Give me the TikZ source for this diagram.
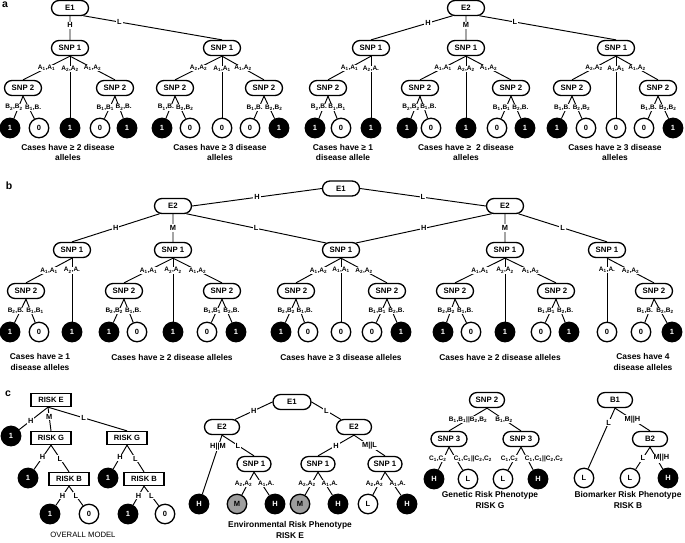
\documentclass[tikz,border=0pt]{standalone}
\usepackage{fontspec}
\setmainfont{Liberation Sans}
\usetikzlibrary{shapes.misc,calc}
\newcommand\sbs[1]{\textsubscript{#1}}
\tikzset{
 bx/.style={rounded rectangle, draw, line width=1.3pt, minimum width=37pt, minimum height=15pt, inner sep=0pt, fill=white, font=\fontsize{7.8}{9}\selectfont\bfseries},
 rbx/.style={rectangle, draw, line width=1.3pt, minimum width=40pt, minimum height=13pt, inner sep=0pt, fill=white, font=\fontsize{7.6}{9}\selectfont\bfseries},
 nd/.style={circle, draw, line width=1.3pt, minimum size=19.5pt, inner sep=0pt, font=\fontsize{7.5}{9}\selectfont\bfseries},
 one/.style={nd, fill=black, text=white},
 zero/.style={nd, fill=white},
 mid/.style={nd, fill=black!38},
 ln/.style={line width=0.95pt},
 lab/.style={fill=white, inner sep=0.5pt, font=\fontsize{6.5}{7}\selectfont\bfseries},
 labl/.style={lab, xshift=-4.5pt},
 labr/.style={lab, xshift=4.5pt},
 el/.style={fill=white, inner sep=1pt, font=\fontsize{7.4}{8}\selectfont\bfseries},
 captxt/.style={align=center, font=\fontsize{8.4}{10.5}\selectfont\bfseries},
 plet/.style={font=\fontsize{10.5}{12}\selectfont\bfseries},
}
\begin{document}
\begin{tikzpicture}[x=1pt,y=-1pt]
\useasboundingbox (0,0) rectangle (685,542);
% ================= panel a =================
\node[plet] (pa) at (5,5) {a};
\node[bx] (a1E) at (70,8) {E1};
\node[bx] (a1S) at (70,48) {SNP 1};
\node[bx] (a2S) at (222,48) {SNP 1};
\node[bx] (a1L) at (23,88) {SNP 2};
\node[bx] (a1R) at (115,88) {SNP 2};
\node[one] (a1c1) at (10,128) {1};
\node[zero] (a1c2) at (39,128) {0};
\node[one] (a1c3) at (70,128) {1};
\node[zero] (a1c4) at (100,128) {0};
\node[one] (a1c5) at (127,128) {1};
\node[bx] (a2L) at (175,88) {SNP 2};
\node[bx] (a2R) at (264,88) {SNP 2};
\node[one] (a2c1) at (162,128) {1};
\node[zero] (a2c2) at (190,128) {0};
\node[zero] (a2c3) at (222,128) {0};
\node[zero] (a2c4) at (250,128) {0};
\node[one] (a2c5) at (279,128) {1};
\node[bx] (a3E) at (466,8) {E2};
\node[bx] (a3S) at (371,48) {SNP 1};
\node[bx] (a4S) at (466,48) {SNP 1};
\node[bx] (a5S) at (616,48) {SNP 1};
\node[bx] (a3L) at (328,88) {SNP 2};
\node[one] (a3c1) at (315,128) {1};
\node[zero] (a3c2) at (341,128) {0};
\node[one] (a3c3) at (371,128) {1};
\node[bx] (a4L) at (420,88) {SNP 2};
\node[bx] (a4R) at (511,88) {SNP 2};
\node[one] (a4c1) at (407,128) {1};
\node[zero] (a4c2) at (431,128) {0};
\node[one] (a4c3) at (466,128) {1};
\node[zero] (a4c4) at (497,128) {0};
\node[one] (a4c5) at (525,128) {1};
\node[bx] (a5L) at (572,88) {SNP 2};
\node[bx] (a5R) at (658,88) {SNP 2};
\node[one] (a5c1) at (557,128) {1};
\node[zero] (a5c2) at (586,128) {0};
\node[zero] (a5c3) at (616,128) {0};
\node[zero] (a5c4) at (644,128) {0};
\node[one] (a5c5) at (673,128) {1};
\draw[ln] (a1E) -- node[el,pos=.38]{H} (a1S);
\draw[ln] (a1E.-30) -- node[el,pos=.26]{L} (a2S.north);
\draw[ln] (a1S.south) -- node[lab]{A\sbs1,A\sbs1} (a1L.north);
\draw[ln] (a1S.south) -- node[lab,pos=.21]{A\sbs2,A\sbs2} (a1c3);
\draw[ln] (a1S.south) -- node[lab]{A\sbs1,A\sbs2} (a1R.north);
\draw[ln] (a1L.south) -- node[labl]{B\sbs2,B\sbs2} (a1c1);
\draw[ln] (a1L.south) -- node[labr]{B\sbs1,B.} (a1c2);
\draw[ln] (a1R.south) -- node[labl]{B\sbs1,B\sbs1} (a1c4);
\draw[ln] (a1R.south) -- node[labr]{B\sbs2,B.} (a1c5);
\draw[ln] (a2S.south) -- node[lab]{A\sbs2,A\sbs2} (a2L.north);
\draw[ln] (a2S.south) -- node[lab,pos=.21]{A\sbs1,A\sbs1} (a2c3);
\draw[ln] (a2S.south) -- node[lab]{A\sbs1,A\sbs2} (a2R.north);
\draw[ln] (a2L.south) -- node[labl]{B\sbs1,B.} (a2c1);
\draw[ln] (a2L.south) -- node[labr]{B\sbs2,B\sbs2} (a2c2);
\draw[ln] (a2R.south) -- node[labl]{B\sbs1,B.} (a2c4);
\draw[ln] (a2R.south) -- node[labr]{B\sbs2,B\sbs2} (a2c5);
\draw[ln] (a3E.210) -- node[el,pos=.3]{H} (a3S.north);
\draw[ln] (a3E) -- node[el,pos=.38]{M} (a4S);
\draw[ln] (a3E.-30) -- node[el,pos=.26]{L} (a5S.north);
\draw[ln] (a3S.south) -- node[lab]{A\sbs1,A\sbs1} (a3L.north);
\draw[ln] (a3S.south) -- node[lab,pos=.21]{A\sbs2,A.} (a3c3);
\draw[ln] (a3L.south) -- node[labl]{B\sbs2,B.} (a3c1);
\draw[ln] (a3L.south) -- node[labr]{B\sbs1,B\sbs1} (a3c2);
\draw[ln] (a4S.south) -- node[lab]{A\sbs1,A\sbs1} (a4L.north);
\draw[ln] (a4S.south) -- node[lab,pos=.21]{A\sbs2,A\sbs2} (a4c3);
\draw[ln] (a4S.south) -- node[lab]{A\sbs1,A\sbs2} (a4R.north);
\draw[ln] (a4L.south) -- node[labl]{B\sbs2,B\sbs2} (a4c1);
\draw[ln] (a4L.south) -- node[labr]{B\sbs1,B.} (a4c2);
\draw[ln] (a4R.south) -- node[labl]{B\sbs1,B\sbs1} (a4c4);
\draw[ln] (a4R.south) -- node[labr]{B\sbs2,B.} (a4c5);
\draw[ln] (a5S.south) -- node[lab]{A\sbs2,A\sbs2} (a5L.north);
\draw[ln] (a5S.south) -- node[lab,pos=.21]{A\sbs1,A\sbs1} (a5c3);
\draw[ln] (a5S.south) -- node[lab]{A\sbs1,A\sbs2} (a5R.north);
\draw[ln] (a5L.south) -- node[labl]{B\sbs1,B.} (a5c1);
\draw[ln] (a5L.south) -- node[labr]{B\sbs2,B\sbs2} (a5c2);
\draw[ln] (a5R.south) -- node[labl]{B\sbs1,B.} (a5c4);
\draw[ln] (a5R.south) -- node[labr]{B\sbs2,B\sbs2} (a5c5);
\node[captxt] (acap1) at (68,152.5) {Cases have ≥ 2 disease\\alleles};
\node[captxt] (acap2) at (220,152.5) {Cases have ≥ 3 disease\\alleles};
\node[captxt] (acap3) at (343,152.5) {Cases have ≥ 1\\disease allele};
\node[captxt] (acap4) at (466,152.5) {Cases have ≥ \ 2 disease\\alleles};
\node[captxt] (acap5) at (615,152.5) {Cases have ≥ 3 disease\\alleles};
% ================= panel b =================
\node[plet] (pb) at (9,186) {b};
\node[bx] (bE) at (341,188.5) {E1};
\node[bx] (bL) at (173,206) {E2};
\node[bx] (bR) at (505,206) {E2};
\node[bx] (b1S) at (72,250) {SNP 1};
\node[bx] (b2S) at (173,250) {SNP 1};
\node[bx] (b3S) at (341,250) {SNP 1};
\node[bx] (b4S) at (505,250) {SNP 1};
\node[bx] (b5S) at (607,250) {SNP 1};
\node[bx] (b1L) at (26,291) {SNP 2};
\node[one] (b1c1) at (10,332) {1};
\node[zero] (b1c2) at (39,332) {0};
\node[one] (b1c3) at (72,332) {1};
\node[bx] (b2L) at (124,291) {SNP 2};
\node[bx] (b2R) at (222,291) {SNP 2};
\node[one] (b2c1) at (109,332) {1};
\node[zero] (b2c2) at (137,332) {0};
\node[one] (b2c3) at (173,332) {1};
\node[zero] (b2c4) at (207,332) {0};
\node[one] (b2c5) at (236,332) {1};
\node[bx] (b3L) at (296,291) {SNP 2};
\node[bx] (b3R) at (387,291) {SNP 2};
\node[one] (b3c1) at (281,332) {1};
\node[zero] (b3c2) at (308,332) {0};
\node[zero] (b3c3) at (341,332) {0};
\node[zero] (b3c4) at (372,332) {0};
\node[one] (b3c5) at (401,332) {1};
\node[bx] (b4L) at (455,291) {SNP 2};
\node[bx] (b4R) at (556,291) {SNP 2};
\node[one] (b4c1) at (443,332) {1};
\node[zero] (b4c2) at (471,332) {0};
\node[one] (b4c3) at (505,332) {1};
\node[zero] (b4c4) at (541,332) {0};
\node[one] (b4c5) at (569,332) {1};
\node[bx] (b5R) at (654,291) {SNP 2};
\node[zero] (b5c1) at (607,332) {0};
\node[zero] (b5c2) at (641,332) {0};
\node[one] (b5c3) at (672,332) {1};
\draw[ln] (bE.west) -- node[el]{H} (bL.east);
\draw[ln] (bE.east) -- node[el]{L} (bR.west);
\draw[ln] (bL.210) -- node[el]{H} (b1S.north);
\draw[ln] (bL) -- node[el]{M} (b2S);
\draw[ln] (bL.-30) -- node[el]{L} (b3S.155);
\draw[ln] (bR.210) -- node[el]{H} (b3S.25);
\draw[ln] (bR) -- node[el]{M} (b4S);
\draw[ln] (bR.-30) -- node[el]{L} (b5S.north);
\draw[ln] (b1S.south) -- node[lab]{A\sbs1,A\sbs1} (b1L.north);
\draw[ln] (b1S.south) -- node[lab,pos=.19]{A\sbs2,A.} (b1c3);
\draw[ln] (b1L.south) -- node[labl]{B\sbs2,B.} (b1c1);
\draw[ln] (b1L.south) -- node[labr]{B\sbs1,B\sbs1} (b1c2);
\draw[ln] (b2S.south) -- node[lab]{A\sbs1,A\sbs1} (b2L.north);
\draw[ln] (b2S.south) -- node[lab,pos=.19]{A\sbs2,A\sbs2} (b2c3);
\draw[ln] (b2S.south) -- node[lab]{A\sbs1,A\sbs2} (b2R.north);
\draw[ln] (b2L.south) -- node[labl]{B\sbs2,B\sbs2} (b2c1);
\draw[ln] (b2L.south) -- node[labr]{B\sbs1,B.} (b2c2);
\draw[ln] (b2R.south) -- node[labl]{B\sbs1,B\sbs1} (b2c4);
\draw[ln] (b2R.south) -- node[labr]{B\sbs2,B.} (b2c5);
\draw[ln] (b3S.south) -- node[lab]{A\sbs1,A\sbs2} (b3L.north);
\draw[ln] (b3S.south) -- node[lab,pos=.19]{A\sbs1,A\sbs1} (b3c3);
\draw[ln] (b3S.south) -- node[lab]{A\sbs2,A\sbs2} (b3R.north);
\draw[ln] (b3L.south) -- node[labl]{B\sbs2,B\sbs2} (b3c1);
\draw[ln] (b3L.south) -- node[labr]{B\sbs1,B.} (b3c2);
\draw[ln] (b3R.south) -- node[labl]{B\sbs1,B\sbs1} (b3c4);
\draw[ln] (b3R.south) -- node[labr]{B\sbs2,B.} (b3c5);
\draw[ln] (b4S.south) -- node[lab]{A\sbs1,A\sbs1} (b4L.north);
\draw[ln] (b4S.south) -- node[lab,pos=.19]{A\sbs2,A\sbs2} (b4c3);
\draw[ln] (b4S.south) -- node[lab]{A\sbs1,A\sbs2} (b4R.north);
\draw[ln] (b4L.south) -- node[labl]{B\sbs2,B\sbs2} (b4c1);
\draw[ln] (b4L.south) -- node[labr]{B\sbs1,B.} (b4c2);
\draw[ln] (b4R.south) -- node[labl]{B\sbs1,B\sbs1} (b4c4);
\draw[ln] (b4R.south) -- node[labr]{B\sbs2,B.} (b4c5);
\draw[ln] (b5S.south) -- node[lab,pos=.19]{A\sbs1,A.} (b5c1);
\draw[ln] (b5S.south) -- node[lab]{A\sbs2,A\sbs2} (b5R.north);
\draw[ln] (b5R.south) -- node[labl]{B\sbs1,B.} (b5c2);
\draw[ln] (b5R.south) -- node[labr]{B\sbs2,B\sbs2} (b5c3);
\node[captxt] (bcap1) at (40,362) {Cases have ≥ 1\\disease alleles};
\node[captxt] (bcap2) at (172,357) {Cases have ≥ 2 disease alleles};
\node[captxt] (bcap3) at (341,357) {Cases have ≥ 3 disease alleles};
\node[captxt] (bcap4) at (500,357) {Cases have ≥ 2 disease alleles};
\node[captxt] (bcap5) at (643,362) {Cases have 4\\disease alleles};
% ================= panel c, overall =================
\node[plet] (pc) at (8,394) {c};
\node[rbx] (cE) at (51,400) {RISK E};
\coordinate (cEo) at ($(cE.south)+(-3,0)$);
\node[one] (cc0) at (11,436) {1};
\node[rbx] (cGl) at (51,438) {RISK G};
\node[rbx] (cGr) at (127,438) {RISK G};
\node[one] (cc1) at (28,478) {1};
\node[rbx] (cBl) at (69,479) {RISK B};
\node[one] (cc2) at (108,478) {1};
\node[rbx] (cBr) at (144,479) {RISK B};
\node[one] (cc3) at (50,514) {1};
\node[zero] (cc4) at (89,514) {0};
\node[one] (cc5) at (128,514) {1};
\node[zero] (cc6) at (165,514) {0};
\draw[ln] (cEo) -- node[el,pos=.6]{H} (cc0);
\draw[ln] (cEo) -- node[el,pos=.4]{M} (cGl.north);
\draw[ln] (cEo) -- node[el,pos=.45]{L} (cGr.north);
\draw[ln] (cGl.south) -- node[el]{H} (cc1);
\draw[ln] (cGl.south) -- node[el]{L} (cBl.north);
\draw[ln] (cGr.south) -- node[el]{H} (cc2);
\draw[ln] (cGr.south) -- node[el]{L} (cBr.north);
\draw[ln] (cBl.south) -- node[el]{H} (cc3);
\draw[ln] (cBl.south) -- node[el]{L} (cc4);
\draw[ln] (cBr.south) -- node[el]{H} (cc5);
\draw[ln] (cBr.south) -- node[el]{L} (cc6);
\node[font=\fontsize{7.7}{9}\selectfont] (ccap) at (83,535) {OVERALL MODEL};
% ================= panel c, environmental =================
\node[bx,minimum width=38pt] (mE) at (292,402) {E1};
\node[bx,minimum width=35pt] (mL) at (222,427) {E2};
\node[bx,minimum width=35pt] (mR) at (354,427) {E2};
\node[one] (mH1) at (199,504) {H};
\node[bx,minimum width=34pt] (mS1) at (254,464) {SNP 1};
\node[bx,minimum width=34pt] (mS2) at (318,464) {SNP 1};
\node[bx,minimum width=34pt] (mS3) at (385,464) {SNP 1};
\node[mid] (mc1) at (237,504) {M};
\node[one] (mc2) at (275,504) {H};
\node[mid] (mc3) at (300,504) {M};
\node[one] (mc4) at (338,504) {H};
\node[zero] (mc5) at (368,504) {L};
\node[one] (mc6) at (407,504) {H};
\draw[ln] (mE.west) -- node[el]{H} (mL.30);
\draw[ln] (mE.east) -- node[el]{L} (mR.150);
\draw[ln] (mL.south) -- node[el,pos=.2]{H||M} (mH1);
\draw[ln] (mL.south) -- node[el]{L} (mS1.north);
\draw[ln] (mR.south) -- node[el]{H} (mS2.north);
\draw[ln] (mR.south) -- node[el]{M||L} (mS3.north);
\draw[ln] (mS1.south) -- node[labl]{A\sbs2,A\sbs2} (mc1);
\draw[ln] (mS1.south) -- node[labr]{A\sbs1,A.} (mc2);
\draw[ln] (mS2.south) -- node[labl]{A\sbs2,A\sbs2} (mc3);
\draw[ln] (mS2.south) -- node[labr]{A\sbs1,A.} (mc4);
\draw[ln] (mS3.south) -- node[labl]{A\sbs2,A\sbs2} (mc5);
\draw[ln] (mS3.south) -- node[labr]{A\sbs1,A.} (mc6);
\node[captxt] (mcap) at (290,530) {Environmental Risk Phenotype\\RISK E};
% ================= panel c, genetic =================
\node[bx,minimum width=35pt] (gS) at (487,400) {SNP 2};
\node[bx,minimum width=36pt] (gL) at (449,439) {SNP 3};
\node[bx,minimum width=36pt] (gR) at (521,439) {SNP 3};
\node[one] (gc1) at (434,479) {H};
\node[zero] (gc2) at (468,479) {L};
\node[zero] (gc3) at (503,479) {L};
\node[one] (gc4) at (538,479) {H};
\draw[ln] (gS.south) -- node[lab]{B\sbs1,B\sbs1||B\sbs2,B\sbs2} (gL.north);
\draw[ln] (gS.south) -- node[lab]{B\sbs1,B\sbs2} (gR.north);
\draw[ln] (gL.south) -- node[lab,xshift=-6pt]{C\sbs1,C\sbs2} (gc1);
\draw[ln] (gL.south) -- node[lab,xshift=17pt]{C\sbs1,C\sbs1||C\sbs2,C\sbs2} (gc2);
\draw[ln] (gR.south) -- node[lab,xshift=-5pt]{C\sbs1,C\sbs2} (gc3);
\draw[ln] (gR.south) -- node[lab,xshift=17pt]{C\sbs1,C\sbs1||C\sbs2,C\sbs2} (gc4);
\node[captxt] (gcap) at (490,500) {Genetic Risk Phenotype\\RISK G};
% ================= panel c, biomarker =================
\node[bx,minimum width=35pt] (kB1) at (615,400) {B1};
\node[bx,minimum width=35pt] (kB2) at (650,439) {B2};
\node[zero] (kc1) at (584,478) {L};
\node[zero] (kc2) at (630,478) {L};
\node[one] (kc3) at (668,478) {H};
\draw[ln] (kB1.south) -- node[el,pos=.24]{L} (kc1);
\draw[ln] (kB1.south) -- node[el]{M||H} (kB2.north);
\draw[ln] (kB2.south) -- node[el]{L} (kc2);
\draw[ln] (kB2.south) -- node[el,xshift=5pt]{M||H} (kc3);
\node[captxt] (kcap) at (628,500) {Biomarker Risk Phenotype\\RISK B};
\end{tikzpicture}
\end{document}
